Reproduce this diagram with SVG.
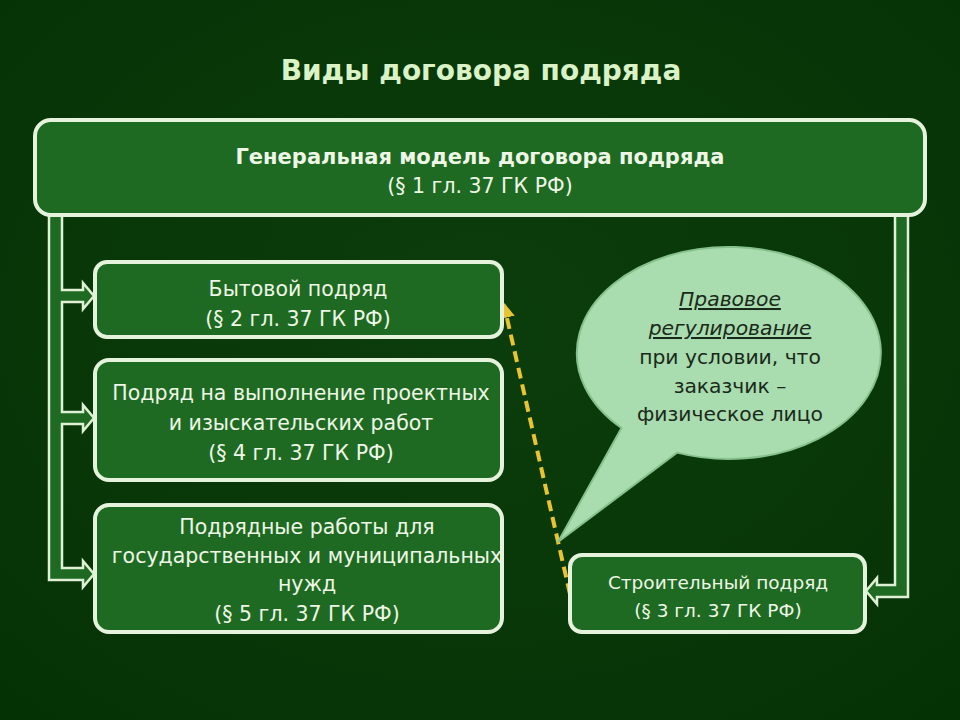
<svg xmlns="http://www.w3.org/2000/svg" width="960" height="720" viewBox="0 0 960 720">
  <defs>
    <radialGradient id="bg" cx="50%" cy="45%" r="75%">
      <stop offset="0" stop-color="#0c3d0c"/>
      <stop offset="1" stop-color="#053205"/>
    </radialGradient>
    <marker id="ya" viewBox="0 0 10 10" refX="8" refY="5" markerWidth="4" markerHeight="4" orient="auto">
      <path d="M0,0 L10,5 L0,10 z" fill="#e8c433"/>
    </marker>
    <style>
      .box { fill: #1f6a22; stroke: #e6f3dc; stroke-width: 4; }
      .t { font-family: "DejaVu Sans", Verdana, sans-serif; fill: #eef7e6; text-anchor: middle; font-size: 20.5px; }
      .b { font-weight: bold; }
      .band { fill: #1f6a22; stroke: #dff0d4; stroke-width: 2.5; stroke-linejoin: miter; }
      .bt { font-family: "DejaVu Sans", Verdana, sans-serif; fill: #1a2a1a; text-anchor: middle; font-size: 20.3px; }
    </style>
  </defs>
  <rect width="960" height="720" fill="url(#bg)"/>

  <text class="t b" x="481" y="80" style="font-size:28px;fill:#d9f2c6">Виды договора подряда</text>

  <g id="connectors">
    <path class="band" d="M49,212 L49,580 L83,580 L83,587 L94,574 L83,561 L83,568 L62,568 L62,424 L83,424 L83,431 L94,418 L83,405 L83,412 L62,412 L62,302 L83,302 L83,309 L94,296 L83,283 L83,290 L62,290 L62,212"/>
    <path class="band" d="M908,212 L908,597 L877,597 L877,604 L866,591 L877,578 L877,585 L895,585 L895,212"/>
    <line x1="570" y1="594" x2="504" y2="305" stroke="#e8c433" stroke-width="4" stroke-dasharray="11,6" marker-end="url(#ya)"/>
  </g>

  <g id="general">
    <rect class="box" x="35" y="120" width="890" height="95" rx="16"/>
    <text class="t b" x="480" y="164" style="font-size:21px">Генеральная модель договора подряда</text>
    <text class="t" x="480" y="193">(§ 1 гл. 37 ГК РФ)</text>
  </g>

  <g id="bytovoy">
    <rect class="box" x="95" y="262" width="407" height="75" rx="12"/>
    <text class="t" x="298" y="296">Бытовой подряд</text>
    <text class="t" x="298" y="326">(§ 2 гл. 37 ГК РФ)</text>
  </g>

  <g id="proekt">
    <rect class="box" x="95" y="360" width="407" height="120" rx="14"/>
    <text class="t" x="301" y="400">Подряд на выполнение проектных</text>
    <text class="t" x="301" y="430">и изыскательских работ</text>
    <text class="t" x="301" y="460">(§ 4 гл. 37 ГК РФ)</text>
  </g>

  <g id="gosmun">
    <rect class="box" x="95" y="505" width="407" height="127" rx="14"/>
    <text class="t" x="307" y="534">Подрядные работы для</text>
    <text class="t" x="307" y="563">государственных и муниципальных</text>
    <text class="t" x="307" y="591">нужд</text>
    <text class="t" x="307" y="621">(§ 5 гл. 37 ГК РФ)</text>
  </g>

  <g id="stroy">
    <rect class="box" x="570" y="555" width="295" height="77" rx="12"/>
    <text class="t" x="718" y="589" style="font-size:18.5px">Строительный подряд</text>
    <text class="t" x="718" y="617" style="font-size:18.5px">(§ 3 гл. 37 ГК РФ)</text>
  </g>

  <g id="bubble">
    <path d="M621.5,428 A152,106 0 1 1 677,452.6 L558,542 Z" fill="#a9dcaf" stroke="#86c08c" stroke-width="2"/>
    <text class="bt" x="730" y="306" font-style="italic" text-decoration="underline">Правовое</text>
    <text class="bt" x="730" y="335" font-style="italic" text-decoration="underline">регулирование</text>
    <text class="bt" x="730" y="364">при условии, что</text>
    <text class="bt" x="730" y="393">заказчик –</text>
    <text class="bt" x="730" y="421">физическое лицо</text>
  </g>
</svg>
